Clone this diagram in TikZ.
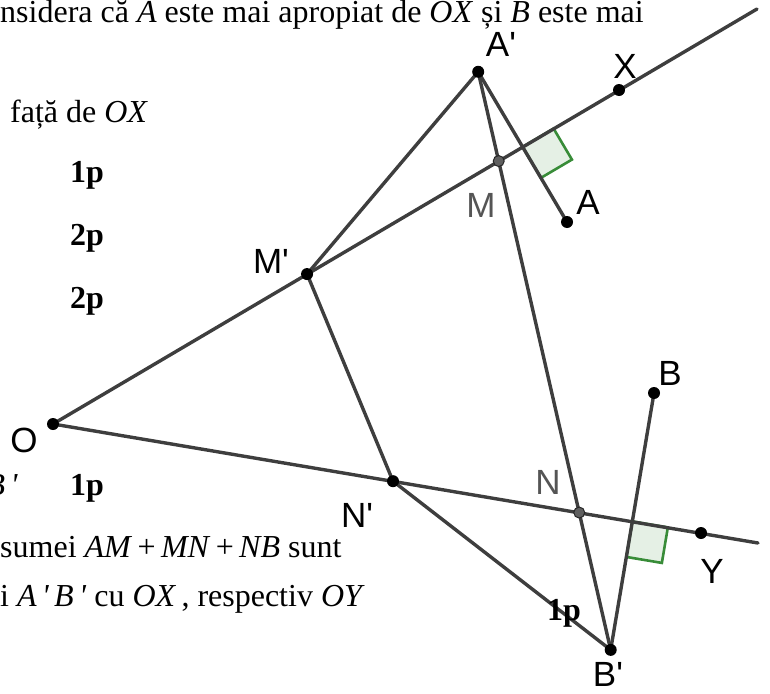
\documentclass[tikz,border=0pt]{standalone}
\usepackage{fontspec}
\setmainfont{Liberation Serif}
\newfontfamily\lblfont{Liberation Sans}
\usetikzlibrary{calc}
\definecolor{geo}{RGB}{62,62,62}
\definecolor{ptgray}{RGB}{95,95,95}
\definecolor{lblgray}{RGB}{85,85,85}
\definecolor{rgreen}{RGB}{56,140,56}
\definecolor{rfill}{RGB}{229,240,229}
\newcommand{\prm}{\textquotesingle}
\begin{document}
\begin{tikzpicture}[x=1pt,y=-1pt,
  seg/.style={draw=geo, line width=3.4pt, line cap=round},
  dot/.style={circle, fill=black, inner sep=0pt, minimum size=12pt},
  gdot/.style={circle, fill=ptgray, draw=black!85, line width=1pt, inner sep=0pt, minimum size=11pt},
  lbl/.style={font=\lblfont\fontsize{35}{35}\selectfont, inner sep=0pt},
  txt/.style={font=\fontsize{32}{34}\selectfont, inner sep=0pt, anchor=base west},
  pts/.style={font=\bfseries\fontsize{32}{34}\selectfont, inner sep=0pt, anchor=base west},
  rangle/.style={draw=rgreen, fill=rfill, line width=2.6pt, line join=miter}]
\useasboundingbox (0,0) rectangle (770,693);
\clip (0,0) rectangle (770,693);
% base points
\coordinate (O) at (53,424);
\coordinate (X) at (619,90);
\coordinate (Y) at (701,533);
\coordinate (A) at (567,222);
\coordinate (B) at (654,393);
\coordinate (Xe) at (757,9);
\coordinate (Ye) at (758,543);
\coordinate (F1) at ($(O)!(A)!(X)$);
\coordinate (F2) at ($(O)!(B)!(Y)$);
\coordinate (Ap) at ($(A)!2!(F1)$);
\coordinate (Bp) at ($(B)!2!(F2)$);
\coordinate (Mp) at ($(O)!0.4489!(X)$);
\coordinate (Np) at ($(O)!0.5247!(Y)$);
\coordinate (M) at (intersection of Ap--Bp and O--X);
\coordinate (N) at (intersection of Ap--Bp and O--Y);
% right-angle marks
\coordinate (F1a) at ($(F1)!36pt!(X)$);
\coordinate (F1b) at ($(F1)!36pt!(A)$);
\coordinate (F2a) at ($(F2)!36pt!(Y)$);
\coordinate (F2b) at ($(F2)!36pt!(Bp)$);
\path[rangle] (F1) -- (F1a) -- ($(F1a)+(F1b)-(F1)$) -- (F1b) -- cycle;
\path[rangle] (F2) -- (F2a) -- ($(F2a)+(F2b)-(F2)$) -- (F2b) -- cycle;
% segments
\draw[seg] (O) -- (Xe);
\draw[seg] (O) -- (Ye);
\draw[seg] (Ap) -- (Mp);
\draw[seg] (Ap) -- (A);
\draw[seg] (Ap) -- (Bp);
\draw[seg] (Mp) -- (Np);
\draw[seg] (Np) -- (Bp);
\draw[seg] (B) -- (Bp);
% dots
\foreach \p in {O,X,Y,A,B,Ap,Bp,Mp,Np} \node[dot] (d\p) at (\p) {};
\foreach \p in {M,N} \node[gdot] (d\p) at (\p) {};
% labels
\node[lbl] (lAp) at (501,44) {A'};
\node[lbl] (lX) at (625,66) {X};
\node[lbl, text=lblgray] (lM) at (481,205) {M};
\node[lbl] (lA) at (588,202) {A};
\node[lbl] (lMp) at (271,261) {M'};
\node[lbl] (lO) at (24,440) {O};
\node[lbl] (lNp) at (357,515) {N'};
\node[lbl, text=lblgray] (lN) at (548,482) {N};
\node[lbl] (lB) at (670,373) {B};
\node[lbl] (lY) at (712,571) {Y};
\node[lbl] (lBp) at (608,674) {B'};
% text of the problem
\node[txt] (t1) at (0,23) {nsidera că \textit{A} este mai apropiat de \textit{OX} și \textit{B} este mai};
\node[txt] (t2) at (10,122) {față de \textit{OX}};
\node[pts] (p1) at (70,182) {1p};
\node[pts] (p2) at (70,245) {2p};
\node[pts] (p3) at (70,308) {2p};
\node[txt, anchor=base east] (t3) at (18,495) {\textit{B\,\prm}};
\node[pts] (p4) at (70,495) {1p};
\node[txt] (t4) at (0,557) {sumei \textit{AM}\,+\,\textit{MN}\,+\,\textit{NB} sunt};
\node[txt] (t5) at (0,606) {i \textit{A\,\prm\,B\,\prm} cu \textit{OX}\,, respectiv \textit{OY}};
\node[pts] (p5) at (547,620) {1p};
\end{tikzpicture}
\end{document}
